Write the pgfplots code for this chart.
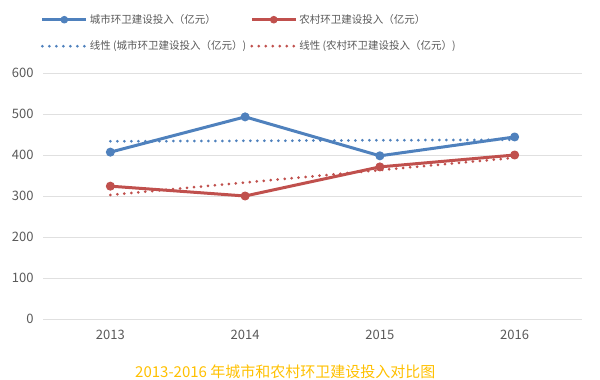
\documentclass[border=0pt]{standalone}
\usepackage{fontspec}
\setmainfont{Noto Sans CJK SC}
\usepackage{pgfplots}
\pgfplotsset{compat=1.18}
\definecolor{cblue}{HTML}{4F81BD}
\definecolor{cred}{HTML}{C0504D}
\definecolor{ctitle}{HTML}{FFC000}
\definecolor{ctick}{HTML}{595959}
\definecolor{cgrid}{HTML}{E0E0E0}
\begin{document}
\begin{tikzpicture}[x=1pt,y=1pt]
\path[use as bounding box] (-43,-61) rectangle (557,319);
\begin{axis}[
  at={(0,0)}, anchor=south west,
  scale only axis, width=539pt, height=246pt,
  xmin=-0.5, xmax=3.5, ymin=0, ymax=600,
  xtick={0,1,2,3}, xticklabels={2013,2014,2015,2016},
  ytick={0,100,...,600},
  ymajorgrids, grid style={cgrid, line width=0.9pt},
  axis line style={draw=none},
  major tick length=0pt,
  tick label style={font=\fontsize{13}{15}\selectfont, text=ctick},
  /pgf/number format/assume math mode=true,
  xticklabel style={yshift=-8pt},
  yticklabel style={xshift=-6pt},
  every axis plot/.append style={line join=round},
  legend columns=2,
  legend cell align=left,
  legend style={draw=none, fill=none, at={(-0.01,1.255)}, anchor=north west,
    font=\fontsize{10.5}{12}\selectfont, text=ctick,
    row sep=12pt, /tikz/every even column/.append style={column sep=2pt}},
  legend image code/.code={\draw[#1,mark repeat=2,mark phase=2,mark size=3.3pt] plot coordinates {(0pt,0pt) (22pt,0pt) (44pt,0pt)};},
]
\addplot[cblue, line width=3pt, mark=*, mark size=4pt, mark options={solid, line width=1pt}] coordinates {(0,407) (1,493) (2,398) (3,444)};
\addlegendentry{城市环卫建设投入（亿元）}
\addplot[cred, line width=3pt, mark=*, mark size=4pt, mark options={solid, line width=1pt}] coordinates {(0,324) (1,300) (2,371) (3,400)};
\addlegendentry{农村环卫建设投入（亿元）}
\addplot[cblue, line width=3pt, line cap=round, dash pattern=on 0pt off 7pt] coordinates {(0,433.3) (1,434.6) (2,435.9) (3,437.2)};
\addlegendentry{线性 (城市环卫建设投入（亿元）)}
\addplot[cred, line width=3pt, line cap=round, dash pattern=on 0pt off 7pt] coordinates {(0,302.7) (1,332.9) (2,363.1) (3,393.3)};
\addlegendentry{线性 (农村环卫建设投入（亿元）)}
\end{axis}
\node[anchor=west, text=ctitle, font=\fontsize{15}{17}\selectfont, inner sep=0pt] at (92,-53) {2013-2016 年城市和农村环卫建设投入对比图};
\end{tikzpicture}
\end{document}
